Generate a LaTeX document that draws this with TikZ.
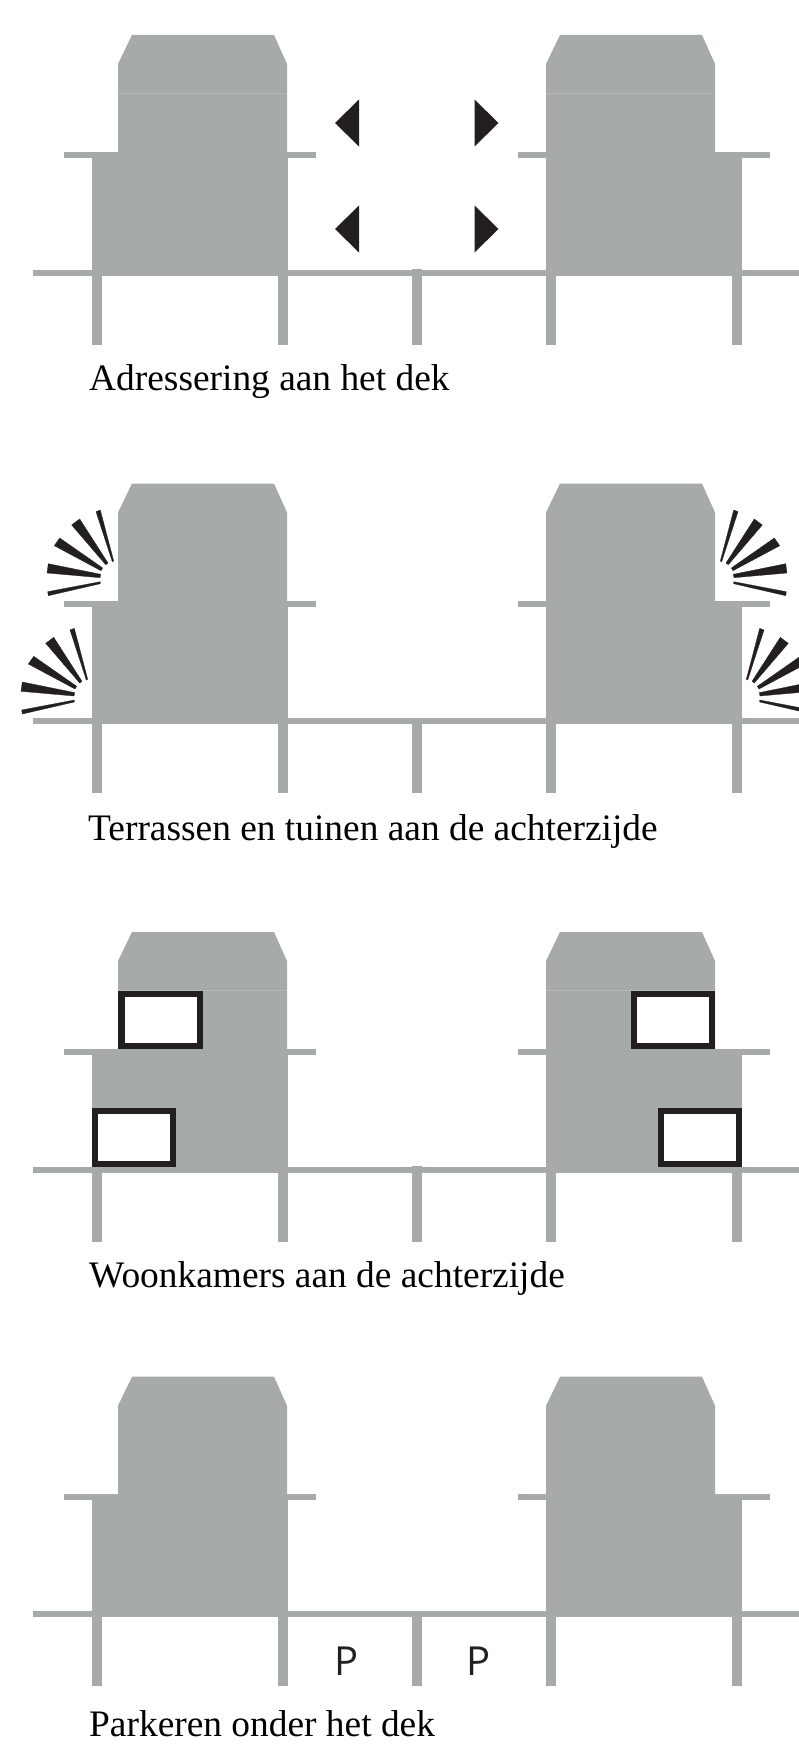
\documentclass[tikz,border=0pt]{standalone}
\usepackage{fontspec}
\setmainfont{Liberation Serif}
\newfontfamily\pfont{Open Sans}
\definecolor{cgrey}{HTML}{A6AAAB}
\definecolor{chair}{HTML}{B4B8B8}
\definecolor{cblack}{HTML}{231F20}
\tikzset{
  deel/.style={fill=cgrey},
  zwart/.style={fill=cblack},
  straal/.style={fill=cblack, draw=cblack, line width=0.3pt},
  raam/.style={draw=cblack, fill=white, line width=6.3pt},
  haar/.style={draw=chair, line width=0.7pt},
  onderschrift/.style={anchor=base west, inner sep=0pt, text=black, font=\fontsize{37.4}{37.4}\selectfont},
  parkeer/.style={anchor=base, inner sep=0pt, text=cblack, font=\pfont\fontsize{40}{40}\selectfont},
  kap/.pic={
    \fill[deel] (132,35) -- (274,35) -- (287,64) -- (287,158) -- (118,158) -- (118,64) -- cycle;
  },
  woning/.pic={
    \fill[deel] (92,154) rectangle (288,276);
    \fill[deel] (92,276) rectangle (102,345);
    \fill[deel] (278,276) rectangle (288,345);
  },
  waaier/.pic={
    \fill[straal] (96,63.2) -- (100.3,61.5) -- (113.7,112.5) -- (112.3,113.2) -- cycle;
    \fill[straal] (71.7,76.5) -- (79.7,70.5) -- (108,114.5) -- (105.7,116.2) -- cycle;
    \fill[straal] (54.3,97.2) -- (59.7,89.5) -- (102.7,119.5) -- (101,122.2) -- cycle;
    \fill[straal] (47,124.5) -- (48.3,115.2) -- (100.7,125.8) -- (100,129.2) -- cycle;
    \fill[straal] (48.3,147.2) -- (47.7,143.2) -- (100.3,133.2) -- (100.3,135.2) -- cycle;
  },
}

\begin{document}
\begin{tikzpicture}[x=1pt, y=-1pt]
  \useasboundingbox (0,0) rectangle (799,1745);
  \clip (0,0) rectangle (799,1745);
  % de vier rijen met twee woningen
  \foreach \rij/\dek/\kop in {0/0/269,448.5/448/270,897/897/269,1341.7/1341/270} {
    \fill[deel] (33,270+\dek) rectangle (801,276+\dek);
    \fill[deel] (412,\kop+\dek) rectangle (422,345+\dek);
    \fill[deel] (64,152+\rij) rectangle (316,158+\rij);
    \fill[deel] (518,152+\rij) rectangle (770,158+\rij);
    \pic at (0,\dek) {woning};
    \pic[xscale=-1] at (834,\dek) {woning};
    \pic at (0,\rij) {kap};
    \pic at (428,\rij) {kap};
  }
  % haarlijn onder de kap
  \draw[haar] (118,93.5) -- (287,93.5);
  \draw[haar] (546,93.5) -- (715,93.5);
  \draw[haar] (118,990.5) -- (287,990.5);
  \draw[haar] (546,990.5) -- (715,990.5);
  % adressering
  \foreach \ypos in {123,229} {
    \fill[zwart] (335,\ypos) -- (359,\ypos-23.5) -- (359,\ypos+23.5) -- cycle;
    \fill[zwart] (498.5,\ypos) -- (474.5,\ypos-23.5) -- (474.5,\ypos+23.5) -- cycle;
  }
  % terrassen
  \pic at (0,448.5) {waaier};
  \pic at (-26,566.8) {waaier};
  \pic[xscale=-1] at (834,448.5) {waaier};
  \pic[xscale=-1] at (860,566.8) {waaier};
  % woonkamers
  \draw[raam] (121.5,994) rectangle (200,1046);
  \draw[raam] (95,1111) rectangle (173,1164);
  \draw[raam] (634,994) rectangle (712,1046);
  \draw[raam] (661,1111) rectangle (739,1164);
  % parkeren
  \node[parkeer] (p1) at (346.2,1675) {P};
  \node[parkeer] (p2) at (478.7,1675) {P};
  % onderschriften
  \node[onderschrift] (adres) at (89,390) {Adressering aan het dek};
  \node[onderschrift] (terras) at (88,840) {Terrassen en tuinen aan de achterzijde};
  \node[onderschrift] (woon) at (89,1287) {Woonkamers aan de achterzijde};
  \node[onderschrift] (parkeren) at (89,1736) {Parkeren onder het dek};
\end{tikzpicture}
\end{document}
